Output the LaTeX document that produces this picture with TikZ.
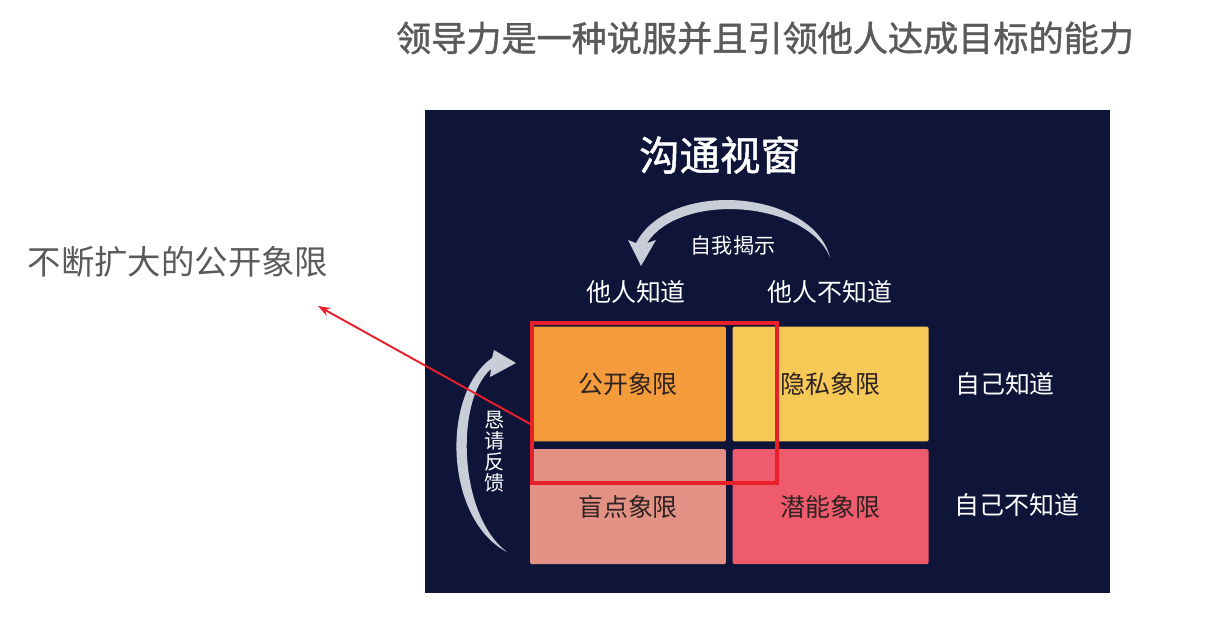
\documentclass[tikz,border=0pt]{standalone}
\usepackage{fontspec}
\newfontfamily\cjk{Noto Sans CJK SC}
\newfontfamily\cjkheavy[FakeBold=1.2]{Noto Sans CJK SC}
\usetikzlibrary{positioning,arrows.meta}
\definecolor{panelblue}{HTML}{0E1538}
\definecolor{arcgray}{HTML}{C9CDD8}
\definecolor{opencol}{HTML}{F49B3B}
\definecolor{hiddencol}{HTML}{F6C957}
\definecolor{blindcol}{HTML}{E39184}
\definecolor{unknowncol}{HTML}{EE5B6D}
\definecolor{quadtext}{HTML}{2E2222}
\definecolor{titlegray}{HTML}{5A5A5A}
\definecolor{markred}{HTML}{E8202A}
\tikzset{
  quad/.style={rounded corners=1.2pt, minimum width=3.92cm, minimum height=2.3cm,
    font=\cjk\fontsize{14.2pt}{16pt}\selectfont, text=quadtext},
  whitelabel/.style={font=\cjk\fontsize{14.2pt}{16pt}\selectfont, text=white},
  graytitle/.style={font=\cjkheavy\fontsize{20pt}{24pt}\selectfont, text=titlegray},
}
\begin{document}
\begin{tikzpicture}[x=0.02cm, y=-0.02cm]
  \useasboundingbox[fill=white] (0,0) rectangle (1208,620);
  % panel
  \fill[panelblue] (425,110) rectangle (1110,593);
  \node[graytitle] (slogan) at (765,38) {领导力是一种说服并且引领他人达成目标的能力};
  \node[font=\cjk\fontsize{19pt}{22pt}\selectfont, text=titlegray] (growtext) at (178,262) {不断扩大的公开象限};
  \node[font=\cjkheavy\fontsize{23pt}{26pt}\selectfont, text=white] (wintitle) at (720,155) {沟通视窗};
  % quadrants
  \node[quad, fill=opencol] (open) at (628,384) {公开象限};
  \node[quad, fill=hiddencol, right=0.12cm of open] (hidden) {隐私象限};
  \node[quad, fill=blindcol, below=0.14cm of open] (blind) {盲点象限};
  \node[quad, fill=unknowncol, below=0.14cm of hidden] (unknown) {潜能象限};
  % headers
  \node[whitelabel] (othersknow) at (636,292) {他人知道};
  \node[whitelabel] (othersnot) at (830,292) {他人不知道};
  \node[whitelabel] (selfknow) at (1005,384) {自己知道};
  \node[whitelabel] (selfnot) at (1017,505) {自己不知道};
  % self disclosure arc
  \fill[arcgray] (830,257) .. controls (812,190) and (670,178) .. (636,243)
    -- (628,240) -- (641,266) -- (656,240) -- (647,243)
    .. controls (680,192) and (805,200) .. (830,257) -- cycle;
  \node[font=\cjk\fontsize{12pt}{14pt}\selectfont, text=white] (disclose) at (733,245) {自我揭示};
  % feedback arc
  \fill[arcgray] (507,552) .. controls (445,520) and (440,395) .. (492,358)
    -- (494,350) -- (516,363) -- (490,377) -- (491,369)
    .. controls (455,400) and (458,515) .. (507,552) -- cycle;
  \node[font=\cjk\fontsize{11.5pt}{12pt}\selectfont, text=white, align=center] (feedback) at (495,452) {恳\\请\\反\\馈};
  % red mark
  \node[draw=markred, line width=2pt, minimum width=4.9cm, minimum height=3.2cm] (growbox) at (654.5,403) {};
  \coordinate (tip) at (318,306);
  \draw[markred, line width=1.1pt, -{Stealth[length=7pt,width=5pt]}] ([yshift=-0.42cm]growbox.west) -- (tip);
\end{tikzpicture}
\end{document}
